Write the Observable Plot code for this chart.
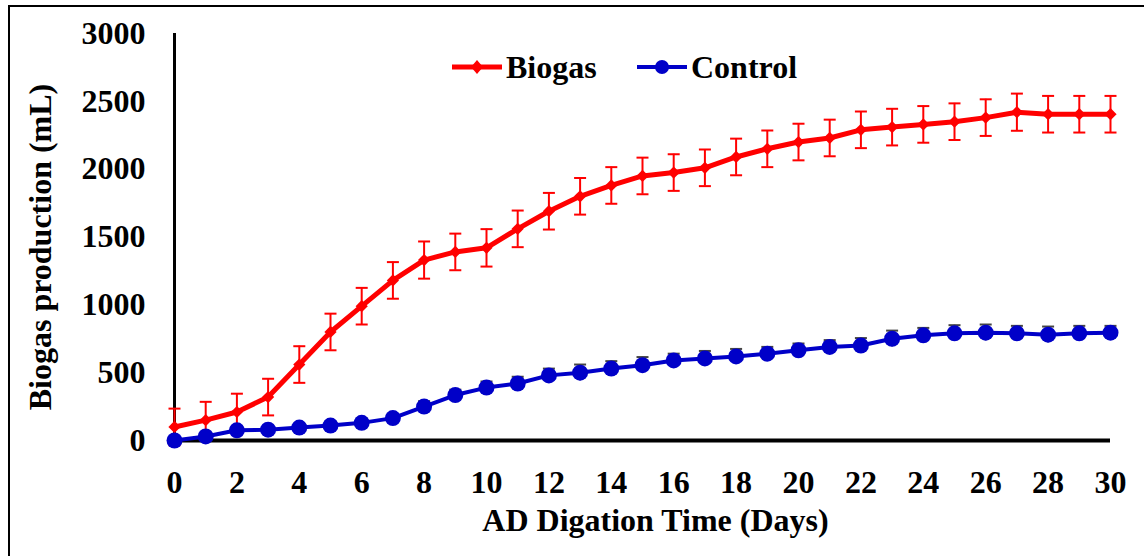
<!DOCTYPE html>
<html><head><meta charset="utf-8">
<script src="https://cdn.jsdelivr.net/npm/d3@7"></script>
<script src="https://cdn.jsdelivr.net/npm/@observablehq/plot@0.6"></script>
<style>
html,body{margin:0;padding:0;background:#fff;}
#wrap{position:relative;width:1144px;height:556px;overflow:hidden;background:#fff;}
#frame{position:absolute;left:8px;top:5px;right:-10px;bottom:-10px;border-left:2.5px solid #000;border-top:2.5px solid #000;pointer-events:none;}
#legend{position:absolute;left:440px;top:45px;}
svg text{font-family:"Liberation Serif","Times New Roman",serif;font-weight:bold;}
</style>
</head><body>
<div id="wrap"><div id="frame"></div></div>
<script>
const days = [0,1,2,3,4,5,6,7,8,9,10,11,12,13,14,15,16,17,18,19,20,21,22,23,24,25,26,27,28,29,30];
const biogas = [100,150,210,320,560,800,990,1180,1330,1390,1420,1560,1690,1800,1880,1950,1975,2010,2090,2150,2200,2230,2290,2310,2330,2350,2380,2420,2405,2405,2405];
const biogasErr = [135,135,135,135,135,135,135,135,137,135,138,135,135,135,135,135,135,135,135,135,135,135,135,135,135,135,135,137,135,135,135];
const control = [0,30,75,80,95,110,130,165,250,335,390,420,480,500,530,555,590,605,620,640,665,690,700,750,775,790,795,790,780,790,795];
const controlErr = [20,20,25,25,25,30,30,30,40,40,45,50,50,60,55,60,50,55,55,50,50,50,55,60,55,60,60,55,60,55,50];
const xTicks = [0,2,4,6,8,10,12,14,16,18,20,22,24,26,28,30];
const yTicks = [0,500,1000,1500,2000,2500,3000];
const seriesNames = ["Biogas","Control"];
const seriesColors = ["#FF0000","#0000C8"];
const yTitle = "Biogas production (mL)";
const xTitle = "AD Digation Time (Days)";

const rows = days.map((d,i)=>({day:d, bio:biogas[i], bioErr:biogasErr[i], ctl:control[i], ctlErr:controlErr[i]}));
const cap = w => ({draw(ctx){ctx.moveTo(-w,0); ctx.lineTo(w,0);}});
const FONT = "'Liberation Serif','Times New Roman',serif";

const chart = Plot.plot({
  width:1144, height:556,
  marginLeft:174, marginRight:34, marginTop:33, marginBottom:116,
  x:{domain:[0,30]},
  y:{domain:[0,3000]},
  style:{fontFamily:FONT, fontWeight:"bold", fontSize:"32px", color:"#000", background:"transparent", overflow:"visible"},
  marks:[
    Plot.axisX({ticks:xTicks, tickSize:0, tickPadding:30, label:null, fontSize:32, fontWeight:"bold", tickFormat:d=>String(d)}),
    Plot.axisY({ticks:yTicks, tickSize:0, tickPadding:29, label:null, fontSize:32, fontWeight:"bold", tickFormat:d=>String(d)}),
    Plot.ruleX([0], {y1:0, y2:3000, stroke:"#000", strokeWidth:3}),
    // Biogas series
    Plot.ruleX(rows, {x:"day", y1:d=>d.bio-d.bioErr, y2:d=>d.bio+d.bioErr, stroke:seriesColors[0], strokeWidth:2}),
    Plot.dot(rows, {x:"day", y:d=>d.bio+d.bioErr, symbol:cap(6), fill:"none", stroke:seriesColors[0], strokeWidth:2}),
    Plot.dot(rows, {x:"day", y:d=>d.bio-d.bioErr, symbol:cap(6), fill:"none", stroke:seriesColors[0], strokeWidth:2}),
    Plot.line(rows, {x:"day", y:"bio", stroke:seriesColors[0], strokeWidth:5}),
    Plot.dot(rows, {x:"day", y:"bio", symbol:"diamond2", r:5.5, fill:seriesColors[0], stroke:"none"}),
    // Control series
    Plot.ruleX(rows, {x:"day", y1:d=>d.ctl-d.ctlErr, y2:d=>d.ctl+d.ctlErr, stroke:"#444", strokeWidth:2}),
    Plot.dot(rows, {x:"day", y:d=>d.ctl+d.ctlErr, symbol:cap(6), fill:"none", stroke:"#444", strokeWidth:2}),
    Plot.ruleY([0], {x1:0, x2:30, stroke:"#000", strokeWidth:4}),
    Plot.line(rows, {x:"day", y:"ctl", stroke:seriesColors[1], strokeWidth:4}),
    Plot.dot(rows, {x:"day", y:"ctl", r:8, fill:seriesColors[1], stroke:"none"}),
    // titles
    Plot.text([yTitle], {text:d=>d, frameAnchor:"left", rotate:-90, dx:-134, dy:10, fontSize:32, fontWeight:"bold", textAnchor:"middle", lineAnchor:"middle", fill:"#000"}),
    Plot.text([xTitle], {text:d=>d, frameAnchor:"bottom", dx:13, dy:80, fontSize:32, fontWeight:"bold", textAnchor:"middle", lineAnchor:"middle", fill:"#000"})
  ]
});
const wrap = document.getElementById("wrap");
wrap.insertBefore(chart, wrap.firstChild);

// legend overlay
const NS = "http://www.w3.org/2000/svg";
const lg = document.createElementNS(NS, "svg");
lg.setAttribute("id","legend"); lg.setAttribute("width","380"); lg.setAttribute("height","45");
const items = [{x:12, name:seriesNames[0], color:seriesColors[0], sym:"diamond"},{x:197, name:seriesNames[1], color:seriesColors[1], sym:"circle"}];
for (const it of items) {
  const ln = document.createElementNS(NS,"line");
  ln.setAttribute("x1",it.x); ln.setAttribute("x2",it.x+50); ln.setAttribute("y1",22); ln.setAttribute("y2",22);
  ln.setAttribute("stroke",it.color); ln.setAttribute("stroke-width", it.sym==="diamond"?5:4);
  lg.appendChild(ln);
  if (it.sym==="diamond") {
    const p = document.createElementNS(NS,"path");
    const cx = it.x+25, cy=22, h=7;
    p.setAttribute("d",`M${cx},${cy-h}L${cx+h-1},${cy}L${cx},${cy+h}L${cx-h+1},${cy}Z`);
    p.setAttribute("fill",it.color); lg.appendChild(p);
  } else {
    const c = document.createElementNS(NS,"circle");
    c.setAttribute("cx",it.x+25); c.setAttribute("cy",22); c.setAttribute("r",7); c.setAttribute("fill",it.color);
    lg.appendChild(c);
  }
  const t = document.createElementNS(NS,"text");
  t.setAttribute("x",it.x+54); t.setAttribute("y",33); t.setAttribute("font-size","32"); t.setAttribute("fill","#000");
  t.textContent = it.name; lg.appendChild(t);
}
wrap.appendChild(lg);
chart.style.position="absolute"; chart.style.left="0"; chart.style.top="0";
</script>
</body></html>
